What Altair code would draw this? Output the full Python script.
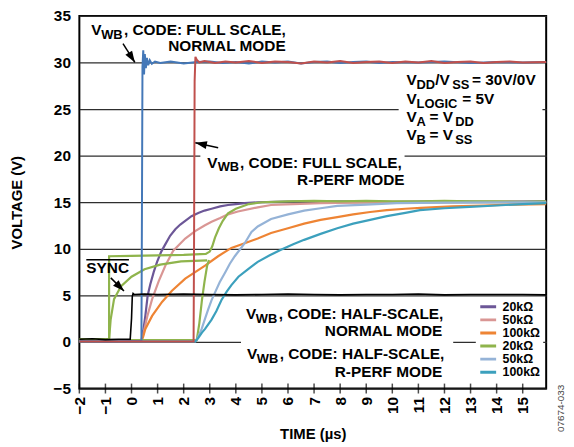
import math
import altair as alt
import pandas as pd

# ---------------- axes ----------------
X_MIN, X_MAX = -2, 15.9
Y_MIN, Y_MAX = -5, 35
X_TICKS = list(range(-2, 16))
Y_TICKS = list(range(-5, 36, 5))
W, H = 471, 376

FONT = "Liberation Sans"

# ---------------- legend (six resistor curves) ----------------
LEGEND_KEYS = ["20kΩ N", "50kΩ N", "100kΩ N", "20kΩ R", "50kΩ R", "100kΩ R"]
LEGEND_COLORS = ["#6c5797", "#d99694", "#ee8434", "#8fb44c", "#95b3d7", "#3ca0bd"]

# ---------------- series (time µs, volts) ----------------
PURPLE_T = [-2, 0.38, 0.45, 0.53, 0.62, 0.72, 0.85, 0.98, 1.14, 1.30, 1.48, 1.68, 1.87, 2.06, 2.3, 2.56, 2.8, 3.07, 3.4, 3.7, 4.0, 4.34, 4.84, 5.5, 6.5, 8, 10, 12, 14, 15.9]
PURPLE_V = [0.1, 0.1, 1.2, 2.8, 5.0, 6.2, 7.5, 8.6, 9.7, 10.5, 11.4, 12.1, 12.6, 13.0, 13.5, 13.85, 14.1, 14.3, 14.55, 14.7, 14.8, 14.9, 15.0, 15.05, 15.1, 15.1, 15.05, 15.1, 15.05, 15.1]

PINK_T = [-2, 0.38, 0.45, 0.6, 0.79, 1.04, 1.3, 1.6, 2.06, 2.44, 2.8, 3.07, 3.4, 3.7, 4.08, 4.84, 5.35, 6.2, 7.25, 8.5, 10.17, 12, 14, 15.9]
PINK_V = [0.1, 0.1, 0.8, 2.7, 4.6, 6.5, 8.2, 9.8, 11.1, 11.9, 12.5, 12.9, 13.3, 13.7, 14.0, 14.45, 14.7, 14.8, 14.9, 14.95, 15.0, 15.0, 15.05, 15.0]

ORANGE_T = [-2, 0.38, 0.45, 0.53, 0.79, 1.17, 1.55, 2.06, 2.44, 2.82, 3.32, 3.83, 4.34, 4.84, 5.35, 6.0, 6.62, 7.25, 7.89, 8.5, 9.15, 9.79, 10.5, 11.1, 12.3, 13.5, 14.7, 15.9]
ORANGE_V = [0.1, 0.1, 0.6, 1.4, 2.8, 4.3, 5.5, 6.8, 7.5, 8.2, 9.2, 10.1, 10.6, 11.1, 11.7, 12.2, 12.7, 13.1, 13.4, 13.7, 13.95, 14.15, 14.3, 14.4, 14.55, 14.65, 14.75, 14.8]

GREEN1_T = [-2, -0.86, -0.86, 0, 1, 2, 2.85, 3.0, 3.1, 3.2, 3.35, 3.5, 3.7, 4.0, 4.5, 5, 6, 7, 8, 9, 10, 11, 12, 13, 14, 15, 15.9]
GREEN1_V = [0.3, 0.3, 9.2, 9.25, 9.3, 9.35, 9.45, 9.7, 10.3, 11.2, 12.2, 13.0, 13.8, 14.3, 14.8, 15.0, 15.1, 15.15, 15.1, 15.15, 15.1, 15.1, 15.15, 15.1, 15.1, 15.05, 15.1]
GREEN2_T = [-0.86, -0.8, -0.67, -0.4, 0, 0.5, 1.1, 1.9, 2.9]
GREEN2_V = [0.3, 2.4, 4.6, 6.0, 7.0, 7.8, 8.3, 8.65, 8.75]
GREEN3_T = [-2, 2.5, 2.6, 2.7, 2.8, 2.9, 2.97]
GREEN3_V = [0.2, 0.2, 2.0, 4.5, 6.5, 8.2, 8.8]

LBLUE_T = [-2, 2.45, 2.55, 2.69, 2.82, 2.94, 3.07, 3.2, 3.38, 3.58, 3.77, 3.96, 4.15, 4.34, 4.6, 4.84, 5.35, 6.0, 6.62, 7.25, 7.89, 9, 10.17, 12, 14, 15.9]
LBLUE_V = [0.05, 0.05, 0.5, 1.4, 2.5, 3.5, 4.5, 5.3, 6.4, 7.4, 8.4, 9.2, 9.9, 10.6, 11.8, 12.4, 13.2, 13.7, 14.1, 14.35, 14.6, 14.75, 14.9, 14.95, 15.0, 15.0]

TEAL_T = [-2, 2.45, 2.55, 2.7, 2.82, 3.07, 3.25, 3.45, 3.65, 3.83, 4.1, 4.46, 4.84, 5.3, 5.73, 6.2, 6.62, 7.25, 7.89, 8.5, 9.15, 9.79, 10.5, 11.06, 12, 12.96, 14, 15, 15.9]
TEAL_V = [0.05, 0.05, 0.4, 1.0, 1.4, 2.4, 3.3, 4.5, 5.4, 6.1, 7.0, 7.8, 8.6, 9.3, 9.9, 10.5, 10.96, 11.6, 12.2, 12.7, 13.1, 13.5, 13.85, 14.15, 14.35, 14.5, 14.65, 14.8, 14.9]

BLUE_T = [-2, -1, 0, 0.38, 0.40, 0.42, 0.45, 0.48, 0.51, 0.55, 0.59, 0.64, 0.70, 0.78, 0.9, 1.1, 1.5, 2, 2.5, 3, 3.5, 4, 4.5, 5, 5.5, 6, 6.5, 7, 7.5, 8, 8.5, 9, 9.5, 10, 11, 12, 13, 14, 15, 15.9]
BLUE_V = [0.1, 0.05, 0.1, 0.1, 14, 29.5, 31.3, 28.7, 30.9, 29.4, 30.5, 29.7, 30.25, 29.85, 30.1, 29.95, 30.1, 29.9, 30.05, 30.1, 29.95, 30.05, 29.9, 30.1, 30.0, 30.1, 29.9, 30.05, 30.1, 29.95, 30.05, 30.1, 29.95, 30.05, 30.0, 30.1, 29.95, 30.05, 30.0, 30.05]

RED_T = [-2, 0, 2.38, 2.40, 2.42, 2.45, 2.5, 2.6, 2.8, 3.2, 3.6, 4, 4.5, 5, 5.5, 6, 6.5, 7, 7.5, 8, 8.5, 9, 9.5, 10, 10.5, 11, 11.5, 12, 12.5, 13, 13.5, 14, 14.5, 15, 15.9]
RED_V = [0.05, 0.05, 0.05, 12, 28, 30.6, 30.3, 30.0, 30.15, 29.95, 30.1, 30.0, 30.15, 29.95, 30.1, 30.05, 29.9, 30.1, 30.0, 30.15, 29.95, 30.05, 30.1, 29.95, 30.1, 30.0, 30.15, 29.95, 30.05, 30.1, 29.95, 30.05, 30.1, 30.0, 30.05]

SYNC_T = [-2, -1.5, -1, -0.5, -0.05, 0.0, 0.03, 0.06, 0.1, 0.5, 1, 2, 3, 4, 5, 6, 7, 8, 9, 10, 11, 12, 13, 14, 15, 15.9]
SYNC_V = [0.3, 0.35, 0.25, 0.3, 0.3, 2.5, 4.9, 5.2, 5.1, 5.15, 5.1, 5.15, 5.1, 5.05, 5.1, 5.15, 5.1, 5.05, 5.1, 5.1, 5.15, 5.05, 5.1, 5.1, 5.1, 5.05]

# ---------------- annotations ----------------
ANN_TEXT = ["V", "WB", ", CODE: FULL SCALE,", "NORMAL MODE",
            "V", "WB", ", CODE: FULL SCALE,", "R-PERF MODE",
            "V", "DD", "/V", "SS", "= 30V/0V",
            "V", "LOGIC", "= 5V",
            "V", "A", "= V", "DD",
            "V", "B", "= V", "SS",
            "SYNC",
            "V", "WB", ", CODE: HALF-SCALE,", "NORMAL MODE",
            "V", "WB", ", CODE: HALF-SCALE,", "R-PERF MODE"]
ANN_KIND = ["main", "sub", "main", "right",
            "main", "sub", "main", "right",
            "main", "sub", "main", "sub", "main",
            "main", "sub", "main",
            "main", "sub", "main", "sub",
            "main", "sub", "main", "sub",
            "main",
            "main", "sub", "main", "right",
            "main", "sub", "main", "right"]
ANN_T = [-1.544, -1.163, -0.289, 5.909,
         2.905, 3.304, 4.160, 10.471,
         10.548, 10.928, 11.650, 12.297, 13.057,
         10.548, 10.928, 12.680,
         10.548, 10.928, 11.422, 12.411,
         10.548, 10.928, 11.422, 12.411,
         -1.734,
         4.388, 4.768, 5.643, 11.916,
         4.426, 4.806, 5.681, 11.916]
ANN_V = [32.98, 32.55, 32.98, 31.28,
         18.72, 18.30, 18.72, 16.81,
         27.55, 27.13, 27.55, 27.13, 27.55,
         25.53, 25.11, 25.53,
         23.62, 23.19, 23.62, 23.19,
         21.70, 21.28, 21.70, 21.28,
         7.45,
         2.45, 2.02, 2.45, 0.64,
         -1.81, -2.23, -1.81, -3.72]

BOX_T0 = [2.639, 10.243, 4.198]
BOX_T1 = [10.47, 15.757, 12.335]
BOX_V0 = [16.28, 20.74, -4.36]
BOX_V1 = [20.53, 29.26, 4.36]

OVER_T0, OVER_T1, OVER_V = [-1.734], [-0.099], [8.83]

ARROW_T0 = [-0.327, 3.323, -0.795]
ARROW_V0 = [32.02, 20.85, 6.88]
ARROW_T1 = [0.129, 2.449, -0.289]
ARROW_V1 = [30.0, 21.38, 5.46]

FOOT_TEXT, FOOT_T, FOOT_V = ["07674-033"], [16.48], [-7.13]

# ---------------- build tables ----------------
def series_rows(key, seg, ts, vs, start):
    return [{"t": t, "v": v, "key": key, "seg": seg, "i": start + j} for j, (t, v) in enumerate(zip(ts, vs))]

rows = []
for key, seg, ts, vs in [
    ("20kΩ N", "p", PURPLE_T, PURPLE_V),
    ("50kΩ N", "k", PINK_T, PINK_V),
    ("100kΩ N", "o", ORANGE_T, ORANGE_V),
    ("20kΩ R", "g3", GREEN3_T, GREEN3_V),
    ("20kΩ R", "g2", GREEN2_T, GREEN2_V),
    ("20kΩ R", "g1", GREEN1_T, GREEN1_V),
    ("50kΩ R", "lb", LBLUE_T, LBLUE_V),
    ("100kΩ R", "tl", TEAL_T, TEAL_V),
]:
    rows += series_rows(key, seg, ts, vs, len(rows))
curves_df = pd.DataFrame(rows)

blue_df = pd.DataFrame({"t": BLUE_T, "v": BLUE_V, "i": range(len(BLUE_T))})
red_df = pd.DataFrame({"t": RED_T, "v": RED_V, "i": range(len(RED_T))})
sync_df = pd.DataFrame({"t": SYNC_T, "v": SYNC_V, "i": range(len(SYNC_T))})
ann_df = pd.DataFrame({"text": ANN_TEXT, "kind": ANN_KIND, "t": ANN_T, "v": ANN_V})
box_df = pd.DataFrame({"t0": BOX_T0, "t1": BOX_T1, "v0": BOX_V0, "v1": BOX_V1})
over_df = pd.DataFrame({"t0": OVER_T0, "t1": OVER_T1, "v": OVER_V})
tick_df = pd.DataFrame({"t": X_TICKS, "v": [Y_MIN] * len(X_TICKS)})
foot_df = pd.DataFrame({"text": FOOT_TEXT, "t": FOOT_T, "v": FOOT_V})

px_t = W / (X_MAX - X_MIN)
px_v = H / (Y_MAX - Y_MIN)
angles = []
for t0, v0, t1, v1 in zip(ARROW_T0, ARROW_V0, ARROW_T1, ARROW_V1):
    dx = (t1 - t0) * px_t
    dy = -(v1 - v0) * px_v
    angles.append(math.degrees(math.atan2(dx, -dy)) % 360)
arrow_df = pd.DataFrame({"t0": ARROW_T0, "v0": ARROW_V0, "t1": ARROW_T1, "v1": ARROW_V1, "ang": angles})

# ---------------- scales / encodings ----------------
xs = alt.Scale(domain=[X_MIN, X_MAX], nice=False, zero=False)
ys = alt.Scale(domain=[Y_MIN, Y_MAX], nice=False, zero=False)

x_axis = alt.Axis(values=X_TICKS, labelAngle=270, grid=False, ticks=False, domain=False,
                  labelPadding=8, title="TIME (µs)", titlePadding=13)
y_axis = alt.Axis(values=Y_TICKS, grid=True, ticks=False, domain=False,
                  labelPadding=9, title="VOLTAGE (V)", titlePadding=29)

X = alt.X("t:Q", scale=xs, axis=x_axis)
Y = alt.Y("v:Q", scale=ys, axis=y_axis)

boxes = alt.Chart(box_df).mark_rect(color="white").encode(
    x=alt.X("t0:Q", scale=xs, axis=x_axis), x2="t1:Q",
    y=alt.Y("v0:Q", scale=ys, axis=y_axis), y2="v1:Q")

curves = alt.Chart(curves_df).mark_line(strokeWidth=2.2).encode(
    x=X, y=Y,
    color=alt.Color("key:N", scale=alt.Scale(domain=LEGEND_KEYS, range=LEGEND_COLORS),
                    sort=LEGEND_KEYS,
                    legend=alt.Legend(title=None, orient="none", legendX=400, legendY=284,
                                      padding=3, fillColor="white", symbolType="stroke",
                                      symbolStrokeWidth=3, symbolSize=256, clipHeight=13,
                                      rowPadding=0.2, labelFont=FONT, labelFontWeight="bold",
                                      labelFontSize=12.5, labelColor="black", labelOffset=5,
                                      labelExpr="split(datum.label, ' ')[0]")),
    detail="seg:N", order="i:Q")

blue = alt.Chart(blue_df).mark_line(strokeWidth=2, color="#4478b8").encode(x=X, y=Y, order="i:Q")
red = alt.Chart(red_df).mark_line(strokeWidth=2, color="#c0504d").encode(x=X, y=Y, order="i:Q")
sync = alt.Chart(sync_df).mark_line(strokeWidth=1.6, color="black").encode(x=X, y=Y, order="i:Q")

ticks = alt.Chart(tick_df).mark_tick(orient="vertical", size=10, thickness=1.5, color="black").encode(x=X, y=Y)

def text_layer(kind, size, align):
    return alt.Chart(ann_df).transform_filter(alt.datum.kind == kind).mark_text(
        align=align, baseline="alphabetic", font=FONT, fontWeight="bold",
        fontSize=size, color="black").encode(x=X, y=Y, text="text:N")

t_main = text_layer("main", 15.5, "left")
t_sub = text_layer("sub", 13, "left")
t_right = text_layer("right", 15.5, "right")

overline = alt.Chart(over_df).mark_rule(color="black", strokeWidth=1.5).encode(
    x=alt.X("t0:Q", scale=xs, axis=x_axis), x2="t1:Q", y=alt.Y("v:Q", scale=ys, axis=y_axis))

shafts = alt.Chart(arrow_df).mark_rule(color="black", strokeWidth=1.5).encode(
    x=alt.X("t0:Q", scale=xs, axis=x_axis), y=alt.Y("v0:Q", scale=ys, axis=y_axis),
    x2="t1:Q", y2="v1:Q")
heads = alt.Chart(arrow_df).mark_point(shape="M0,0L0.55,1.6L-0.55,1.6Z", filled=True,
                                       color="black", opacity=1, size=210).encode(
    x=alt.X("t1:Q", scale=xs, axis=x_axis), y=alt.Y("v1:Q", scale=ys, axis=y_axis),
    angle=alt.Angle("ang:Q", scale=None))

foot = alt.Chart(foot_df).mark_text(angle=270, font=FONT, fontSize=10, color="#444",
                                    align="center", baseline="middle").encode(x=X, y=Y, text="text:N")

chart = alt.layer(boxes, curves, blue, red, sync, ticks, t_main, t_sub, t_right,
                  overline, shafts, heads, foot).properties(
    width=W, height=H,
    autosize=alt.AutoSizeParams(type="none"),
    padding={"left": 72, "top": 6, "right": 20, "bottom": 55},
).configure_view(stroke="black", strokeWidth=2).configure_axis(
    labelFont=FONT, labelFontWeight="bold", labelFontSize=15.5, labelColor="black",
    titleFont=FONT, titleFontWeight="bold", titleFontSize=15, titleColor="black",
    gridColor="#2e2e2e", gridWidth=1.3, gridOpacity=1)

chart.save("out.html", embed_options={"renderer": "svg", "actions": False})
